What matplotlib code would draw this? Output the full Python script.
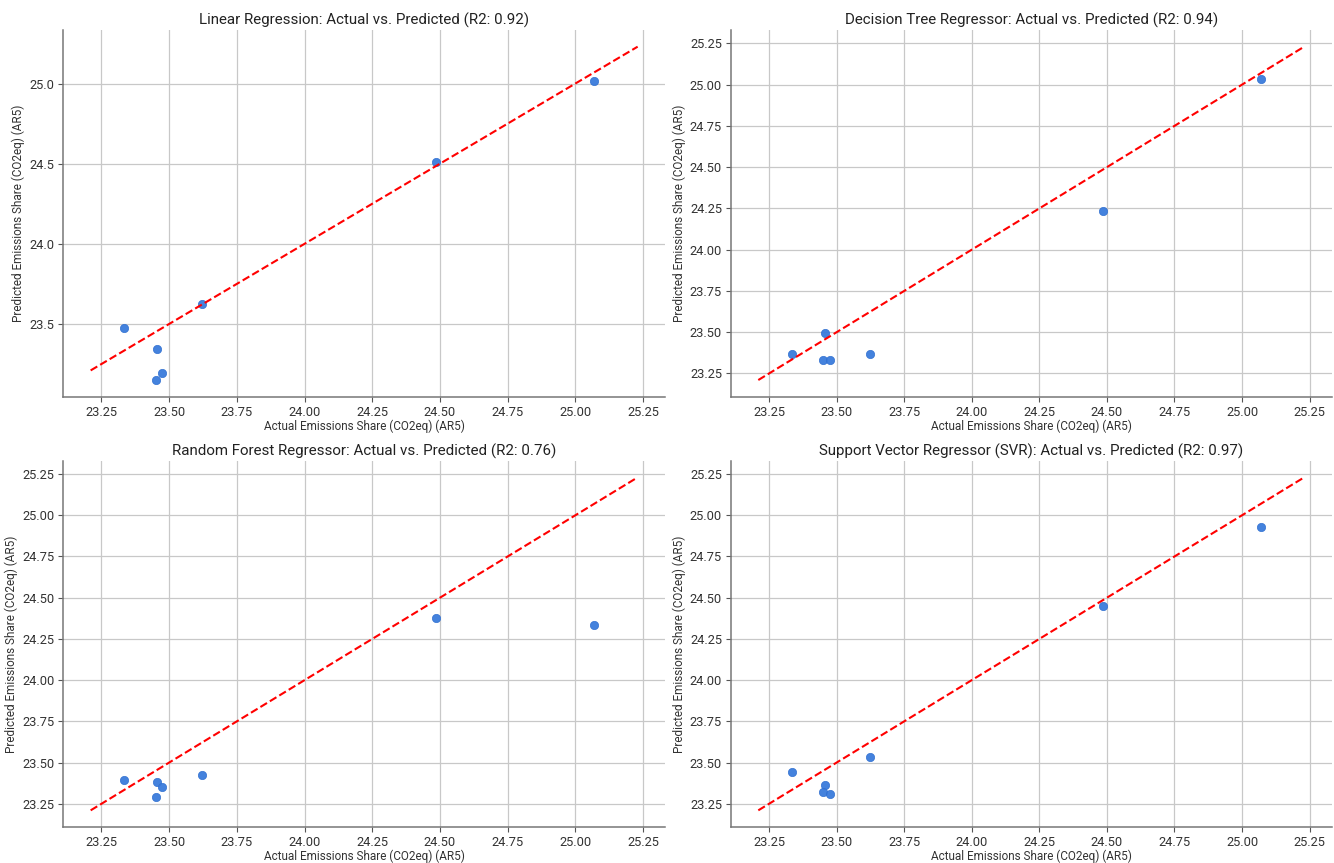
import matplotlib
matplotlib.use("Agg")
import matplotlib.pyplot as plt

plt.rcParams['font.family'] = ['Roboto', 'DejaVu Sans']

actual = [23.335, 23.455, 23.450, 23.475, 23.622, 24.487, 25.070]
pred_linear = [23.473, 23.342, 23.150, 23.193, 23.622, 24.510, 25.017]
pred_tree = [23.369, 23.495, 23.329, 23.329, 23.369, 24.235, 25.035]
pred_forest = [23.393, 23.383, 23.294, 23.349, 23.423, 24.376, 24.333]
pred_svr = [23.445, 23.361, 23.324, 23.310, 23.532, 24.447, 24.931]

titles = [
    "Linear Regression: Actual vs. Predicted (R2: 0.92)",
    "Decision Tree Regressor: Actual vs. Predicted (R2: 0.94)",
    "Random Forest Regressor: Actual vs. Predicted (R2: 0.76)",
    "Support Vector Regressor (SVR): Actual vs. Predicted (R2: 0.97)",
]
preds = [pred_linear, pred_tree, pred_forest, pred_svr]
ref_line = [23.21, 25.23]

xlabel = "Actual Emissions Share (CO2eq) (AR5)"
ylabel = "Predicted Emissions Share (CO2eq) (AR5)"

W, H = 1334, 863
fig = plt.figure(figsize=(W / 100, H / 100), dpi=100)

# axes boxes in pixels: (left, right, top, bottom)
boxes = [
    (63.3, 665, 30, 396.7),
    (731, 1331.5, 30, 396.7),
    (63.3, 665, 460.7, 827),
    (731, 1331.5, 460.7, 827),
]

for (l, r, t, b), title, pred in zip(boxes, titles, preds):
    ax = fig.add_axes([l / W, 1 - b / H, (r - l) / W, (b - t) / H])
    ax.scatter(actual, pred, s=36, color='#3a7bdc', alpha=0.95, edgecolors='#2f6fd0', linewidths=0.5, zorder=3)
    ax.plot(ref_line, ref_line, color='red', linestyle='--', linewidth=1.5, zorder=4)
    ax.set_title(title, fontsize=10.9, color='#222222', pad=4)
    ax.set_xlabel(xlabel, fontsize=8.5, color='#333333', labelpad=0.5)
    ax.set_ylabel(ylabel, fontsize=8.5, color='#333333', labelpad=3)
    ax.set_xticks([23.25, 23.5, 23.75, 24.0, 24.25, 24.5, 24.75, 25.0, 25.25])
    ax.tick_params(labelsize=9.3, length=3.5, width=0.8, pad=3)
    ax.tick_params(axis='both', colors='#555555', labelcolor='#333333')
    ax.grid(True, color='#c8c8c8', linewidth=0.9)
    ax.set_axisbelow(True)
    for s in ['top', 'right']:
        ax.spines[s].set_visible(False)
    for s in ['left', 'bottom']:
        ax.spines[s].set_color('#777777')
        ax.spines[s].set_linewidth(1.1)

fig.savefig("out.png", dpi=100, facecolor='white')
